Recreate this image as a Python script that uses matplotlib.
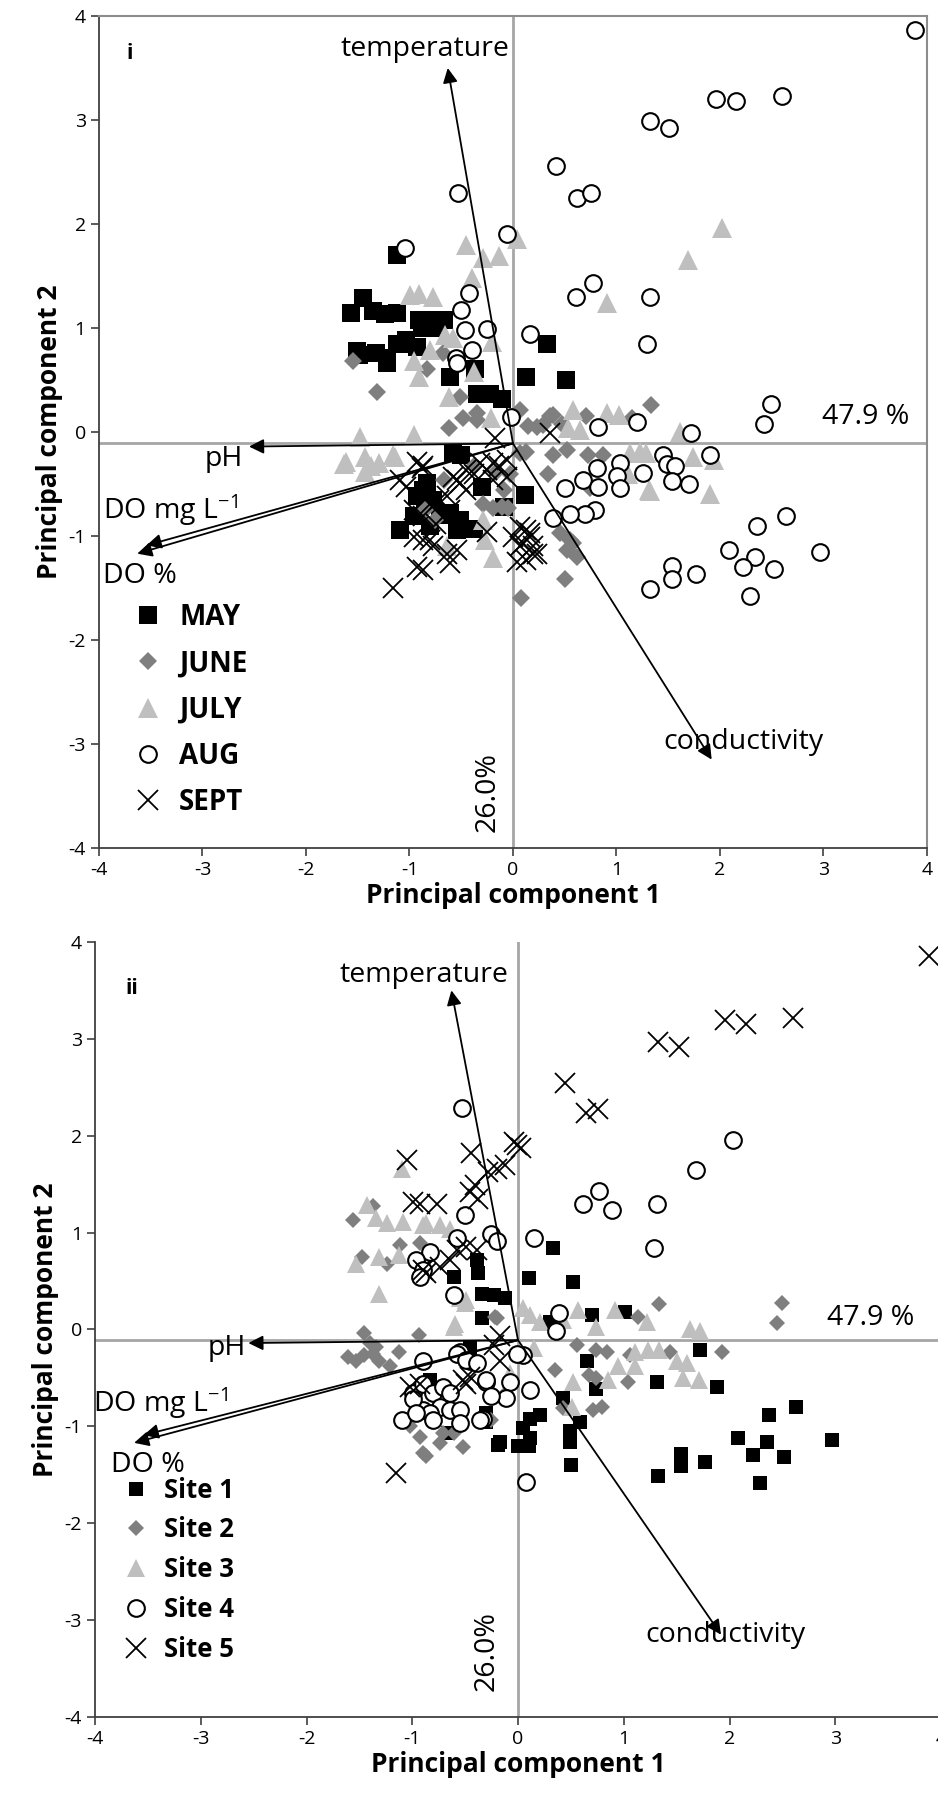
import matplotlib
matplotlib.use("Agg")
import matplotlib.pyplot as plt
from matplotlib.lines import Line2D

plt.rcParams["font.family"] = ["Open Sans", "DejaVu Sans"]
plt.rcParams["axes.unicode_minus"] = False
plt.rcParams["mathtext.fontset"] = "custom"
plt.rcParams["mathtext.rm"] = "Open Sans"
plt.rcParams["mathtext.default"] = "regular"

# ---------------- PCA scores, panel i (grouped by month) ----------------
may = [(-1.12, 1.70), (-1.45, 1.29), (-1.56, 1.14), (-1.35, 1.16), (-1.24, 1.13), (-1.12, 1.14),
       (-0.91, 1.08), (-0.80, 1.08), (-0.67, 1.08), (-0.88, 1.00), (-0.74, 1.00), (-1.12, 0.85),
       (-1.03, 0.88), (-1.49, 0.74), (-1.32, 0.76), (-1.22, 0.71), (-0.93, 0.82), (-1.09, 0.85),
       (-1.22, 0.66), (-1.51, 0.78), (-0.61, 0.53), (-0.37, 0.61), (-0.35, 0.37), (-0.22, 0.37),
       (-0.11, 0.32), (-0.30, 0.37), (0.13, 0.53), (0.33, 0.85), (0.51, 0.50), (-0.58, -0.20),
       (-0.50, -0.22), (-0.83, -0.49), (-0.93, -0.62), (-0.85, -0.65), (-1.09, -0.94), (-0.96, -0.81),
       (-0.61, -0.78), (-0.54, -0.94), (-0.51, -0.85), (-0.38, -0.93), (-0.30, -0.53), (-0.09, -0.72),
       (0.12, -0.61), (-0.87, -0.56), (-0.77, -0.65), (-0.70, -0.80), (-0.80, -0.90)]

june = [(-1.55, 0.68), (-1.31, 0.38), (-0.83, 0.61), (-0.68, 0.76), (-0.51, 0.34), (-0.35, 0.18),
        (-0.62, 0.04), (-0.35, 0.12), (0.07, 0.21), (0.15, 0.06), (0.23, 0.05), (0.39, 0.16),
        (0.47, 0.08), (0.29, 0.07), (0.71, 0.15), (1.33, 0.26), (1.15, 0.13), (0.36, 0.15),
        (0.13, -0.19), (0.39, -0.22), (0.34, -0.40), (0.52, -0.17), (0.73, -0.22), (0.87, -0.22),
        (-0.03, -0.40), (-0.05, -0.73), (0.45, -0.97), (0.52, -1.13), (0.55, -1.04), (0.62, -1.20),
        (0.50, -1.41), (0.08, -1.60), (0.74, -0.54), (-0.09, -0.56), (-0.19, -0.73), (-0.29, -0.69),
        (-0.11, -0.72), (-0.38, -0.33), (-0.16, -0.38), (-0.67, -0.46), (0.07, -0.20), (-0.48, 0.13),
        (0.58, -1.07), (-0.85, -0.75), (-0.75, -0.85)]

july = [(2.02, 1.96), (1.69, 1.65), (0.91, 1.24), (0.91, 0.18), (1.02, 0.16), (1.61, 0.00),
        (1.74, -0.24), (1.94, -0.27), (1.13, -0.20), (1.23, -0.19), (1.29, -0.20), (1.11, -0.40),
        (1.31, -0.56), (1.90, -0.60), (-0.45, 1.80), (-0.29, 1.67), (-0.13, 1.69), (0.04, 1.86),
        (-0.40, 1.48), (-0.99, 1.32), (-0.91, 1.33), (-0.77, 1.30), (-0.66, 0.93), (-0.58, 0.90),
        (-0.80, 0.79), (-0.96, 0.68), (-0.91, 0.53), (-0.38, 0.58), (-0.62, 0.34), (-0.21, 0.13),
        (-0.20, 0.87), (-0.96, -0.03), (-1.16, -0.22), (0.58, 0.21), (0.53, 0.04), (0.65, 0.02),
        (-1.48, -0.05), (-1.61, -0.29), (-1.43, -0.24), (-1.37, -0.33), (-1.29, -0.30), (-1.14, -0.24),
        (-1.43, -0.38), (-1.63, -0.31), (-0.29, -0.85), (-0.27, -1.04), (-0.19, -1.21), (-0.64, -1.10),
        (1.32, -0.57)]

aug = [(3.88, 3.87), (1.96, 3.20), (2.16, 3.18), (2.60, 3.23), (1.32, 2.99), (1.51, 2.92),
       (0.42, 2.56), (-0.53, 2.30), (0.62, 2.25), (0.75, 2.30), (-0.06, 1.90), (-1.04, 1.77),
       (0.77, 1.43), (0.61, 1.30), (1.32, 1.30), (-0.42, 1.34), (-0.50, 1.17), (-0.46, 0.98),
       (-0.25, 0.99), (0.16, 0.94), (-0.40, 0.79), (-0.55, 0.71), (-0.54, 0.66), (1.30, 0.85),
       (-0.02, 0.14), (0.82, 0.05), (1.20, 0.10), (1.72, -0.01), (2.49, 0.27), (2.43, 0.08),
       (1.90, -0.22), (1.45, -0.22), (1.49, -0.31), (1.57, -0.33), (1.54, -0.47), (1.70, -0.50),
       (1.26, -0.39), (1.03, -0.30), (1.01, -0.42), (1.03, -0.54), (2.36, -0.90), (2.64, -0.81),
       (2.09, -1.13), (2.34, -1.20), (2.22, -1.30), (2.52, -1.32), (2.97, -1.15), (1.54, -1.29),
       (1.54, -1.41), (1.77, -1.37), (1.32, -1.51), (2.29, -1.58), (0.81, -0.35), (0.68, -0.46),
       (0.82, -0.53), (0.50, -0.54), (0.79, -0.75), (0.70, -0.79), (0.55, -0.79), (0.39, -0.83)]

sept = [(-0.17, -0.06), (0.36, -0.01), (-0.93, -0.29), (-0.87, -0.33), (-1.09, -0.46), (-1.03, -0.53),
        (-0.58, -0.43), (-0.51, -0.49), (-0.45, -0.56), (-0.38, -0.40), (-0.25, -0.37), (-0.13, -0.33),
        (-0.06, -0.43), (-0.19, -0.46), (-0.80, -0.69), (-0.71, -0.65), (-0.64, -0.62), (-0.96, -1.01),
        (-0.87, -1.04), (-0.77, -1.10), (-0.64, -1.17), (-0.54, -1.13), (-0.93, -1.30), (-0.87, -1.33),
        (-0.61, -1.26), (-1.16, -1.50), (-0.25, -0.96), (0.07, -0.91), (0.16, -0.97), (0.10, -1.07),
        (0.19, -1.17), (0.13, -1.23), (0.13, -0.94), (0.16, -1.01), (0.19, -1.10), (0.23, -1.17),
        (0.07, -1.10), (0.00, -1.01), (0.04, -1.25), (-0.96, -0.75), (-0.87, -0.81), (-0.80, -1.04),
        (-0.74, -0.88), (-0.61, -0.75), (-0.54, -0.46), (-0.45, -0.37), (-0.32, -0.30), (-0.19, -0.30),
        (-0.06, -0.27), (-0.88, -0.35)]

# ---------------- PCA scores, panel ii (grouped by site) ----------------
site1 = [(0.33, 0.84), (0.10, 0.53), (0.52, 0.49), (-0.34, 0.37), (-0.23, 0.36), (-0.12, 0.32),
         (-0.34, 0.12), (-0.38, 0.58), (-0.39, 0.72), (0.30, 0.08), (0.70, 0.15), (1.01, 0.18),
         (1.72, -0.21), (1.88, -0.59), (1.31, -0.54), (2.37, -0.88), (2.63, -0.80), (2.08, -1.12),
         (2.35, -1.16), (2.97, -1.14), (0.65, -0.33), (0.74, -0.61), (0.43, -0.71), (0.11, -0.92),
         (0.21, -0.88), (0.05, -1.02), (0.59, -0.95), (0.49, -1.05), (-0.17, -1.16), (0.11, -1.12),
         (0.49, -1.16), (1.32, -1.51), (1.54, -1.29), (1.54, -1.41), (1.77, -1.37), (2.22, -1.30),
         (2.29, -1.58), (2.52, -1.32), (0.00, -1.20), (0.10, -1.20), (0.50, -1.40), (-0.30, -0.95),
         (-0.83, -0.52), (-0.66, -1.07), (-0.30, -0.86), (-0.19, -1.19), (-0.61, 0.54), (-0.45, -0.19)]

site2 = [(1.33, 0.26), (2.50, 0.27), (2.45, 0.07), (1.13, 0.13), (1.93, -0.23), (-0.20, 0.12),
         (0.35, -0.42), (0.74, -0.21), (0.84, -0.23), (1.06, -0.26), (1.44, -0.23), (0.67, -0.47),
         (0.74, -0.50), (1.04, -0.54), (0.79, -0.80), (0.71, -0.83), (0.43, -0.81), (0.56, -0.16),
         (-1.56, 1.13), (-1.37, 1.27), (-1.48, 0.75), (-1.24, 0.68), (-1.12, 0.87), (-0.93, 0.89),
         (-0.22, 0.13), (-1.46, -0.04), (-1.40, -0.14), (-1.61, -0.28), (-1.53, -0.33), (-1.46, -0.26),
         (-1.37, -0.25), (-1.31, -0.33), (-1.21, -0.38), (-1.34, -0.18), (-1.13, -0.23), (-0.94, -0.06),
         (-1.02, -1.00), (-0.93, -1.11), (-0.87, -1.31), (-0.74, -1.17), (-0.61, -1.07), (-0.52, -1.21),
         (-0.71, -1.07), (-0.26, -0.93), (-0.14, -0.69), (-0.90, -1.27)]

site3 = [(-1.10, 1.66), (-1.43, 1.28), (-1.34, 1.15), (-1.24, 1.10), (-1.09, 1.11), (-0.90, 1.08),
         (-0.74, 1.08), (-0.64, 1.04), (-0.87, 1.10), (-1.53, 0.68), (-1.31, 0.75), (-1.13, 0.77),
         (-1.31, 0.37), (-0.61, 0.03), (-0.49, 0.30), (-0.08, -0.45), (-0.50, 0.27), (0.05, 0.22),
         (0.11, 0.15), (0.21, 0.08), (0.57, 0.20), (0.92, 0.20), (1.22, 0.08), (1.63, 0.00),
         (1.72, -0.02), (0.74, 0.03), (0.43, 0.10), (1.11, -0.23), (1.23, -0.21), (1.33, -0.21),
         (1.50, -0.33), (1.60, -0.35), (1.71, -0.52), (1.56, -0.50), (1.11, -0.38), (0.95, -0.38),
         (0.85, -0.52), (0.52, -0.54), (0.51, -0.80), (0.15, -0.19), (-0.55, 0.32), (-0.60, 0.06)]

site4 = [(2.03, 1.96), (1.68, 1.65), (0.77, 1.43), (0.61, 1.29), (0.89, 1.23), (1.31, 1.30),
         (1.29, 0.84), (0.15, 0.94), (-0.53, 2.29), (-0.50, 1.18), (-0.26, 0.99), (-0.20, 0.91),
         (-0.61, 0.36), (0.39, 0.17), (0.36, -0.02), (0.05, -0.26), (0.11, -0.62), (-0.08, -0.54),
         (-0.11, -0.71), (-0.30, -0.54), (-0.33, -0.92), (-0.45, -0.33), (-0.55, -0.23), (0.08, -1.57),
         (-0.93, 0.70), (-0.83, 0.80), (-0.58, 0.94), (-0.96, 0.72), (-0.90, 0.61), (-0.93, 0.54),
         (-0.01, -0.25), (-0.58, -0.25), (-0.49, -0.31), (-0.39, -0.35), (-0.90, -0.33), (-0.30, -0.52),
         (-0.26, -0.69), (-0.99, -0.66), (-0.90, -0.56), (-0.80, -0.66), (-0.71, -0.59), (-0.64, -0.66),
         (-0.74, -0.80), (-0.90, -0.83), (-0.99, -0.72), (-0.83, -0.86), (-0.64, -0.83), (-0.55, -0.83),
         (-1.10, -0.93), (-0.96, -0.86), (-0.80, -0.93), (-0.55, -0.97), (-0.36, -0.93)]

site5 = [(3.89, 3.86), (1.96, 3.19), (2.16, 3.15), (2.60, 3.21), (1.32, 2.97), (1.52, 2.92),
         (0.44, 2.54), (0.64, 2.23), (0.76, 2.28), (-0.01, 1.90), (0.03, 1.87), (-0.04, 1.94),
         (-0.44, 1.82), (-0.12, 1.70), (-0.20, 1.66), (-0.28, 1.63), (-0.41, 1.49), (-0.45, 1.42),
         (-0.38, 1.35), (-1.05, 1.75), (-0.99, 1.32), (-0.93, 1.30), (-0.77, 1.30), (-0.58, 0.82),
         (-0.64, 0.72), (-0.49, 0.85), (-0.74, 0.65), (-0.90, 0.61), (-0.87, 0.58), (-0.17, -0.07),
         (-0.23, -0.16), (-0.52, -0.52), (-0.49, -0.56), (-0.45, -0.49), (-1.02, -0.59), (-0.93, -0.56),
         (-1.15, -1.48), (-0.17, -0.33), (-0.39, 0.82)]

month_labels = ["MAY", "JUNE", "JULY", "AUG", "SEPT"]
site_labels = ["Site 1", "Site 2", "Site 3", "Site 4", "Site 5"]

# ---------------- variable loadings (arrow tips) ----------------
loading_origin = (0.0, -0.11)
loading_names = ["temperature", "pH", "DO mg L$^{-1}$", "DO %", "conductivity"]
loading_tips = [(-0.63, 3.50), (-2.55, -0.14), (-3.54, -1.09), (-3.63, -1.17), (1.92, -3.15)]
pc1_var = "47.9 %"
pc2_var = "26.0%"

# ---------------- marker styles per group ----------------
styles = [
    dict(marker="s", mfc="black", mec="black", mew=0),
    dict(marker="D", mfc="#7f7f7f", mec="#7f7f7f", mew=0),
    dict(marker="^", mfc="#bfbfbf", mec="#bfbfbf", mew=0),
    dict(marker="o", mfc="white", mec="black", mew=1.5),
    dict(marker="x", mfc="none", mec="black", mew=1.3),
]
sizes_i = [13, 9.5, 14.5, 12, 14]
sizes_ii = [10, 8.5, 13, 12, 14]

TXT = 20.5


def draw_panel(ax, groups, labels, sizes, label_pos, leg_anchor, leg_font, leg_space):
    ax.set_xlim(-4, 4)
    ax.set_ylim(-4, 4)
    # reference lines through the loading origin
    ax.axhline(loading_origin[1], color="#a6a6a6", lw=2, zorder=1)
    ax.axvline(loading_origin[0], color="#a6a6a6", lw=2, zorder=1)

    for pts, st, ms in zip(groups, styles, sizes):
        xs = [p[0] for p in pts]
        ys = [p[1] for p in pts]
        ax.plot(xs, ys, linestyle="none", markersize=ms, zorder=3, **st)

    # loading arrows with their labels
    for name, tip in zip(loading_names, loading_tips):
        ax.annotate("", xy=tip, xytext=loading_origin,
                    arrowprops=dict(arrowstyle="-|>", color="black", lw=1.3,
                                    mutation_scale=22, shrinkA=0, shrinkB=0),
                    zorder=5)
        lx, ly = label_pos[name]
        ax.text(lx, ly, name, fontsize=TXT, ha="center", va="center", zorder=6)

    handles = [Line2D([], [], linestyle="none", markersize=ms, **st)
               for st, ms in zip(styles, sizes)]
    ax.legend(handles, labels, loc="center left", bbox_to_anchor=leg_anchor,
              frameon=False, handlelength=1.0, handletextpad=0.6,
              labelspacing=leg_space, borderpad=0, borderaxespad=0,
              prop=dict(weight="bold", size=leg_font))

    ax.set_xticks(range(-4, 5))
    ax.set_yticks(range(-4, 5))
    ax.tick_params(labelsize=14, length=6, width=1.2, color="#404040", direction="out")
    ax.set_xlabel("Principal component 1", fontsize=19, fontweight="bold", labelpad=2)
    ax.set_ylabel("Principal component 2", fontsize=19, fontweight="bold", labelpad=4)


fig = plt.figure(figsize=(9.38, 18), dpi=100)

# panel i: grouped by month
ax1 = fig.add_axes([0.1055, 0.5289, 0.8827, 0.4622])
pos1 = {"temperature": (-0.85, 3.68), "pH": (-2.79, -0.26), "DO mg L$^{-1}$": (-3.31, -0.75),
        "DO %": (-3.6, -1.38), "conductivity": (2.23, -2.98)}
draw_panel(ax1, [may, june, july, aug, sept], month_labels, sizes_i, pos1,
           (0.043, 0.166), 20, 0.62)
for s in ("top", "right"):
    ax1.spines[s].set_color("#8c8c8c")
    ax1.spines[s].set_linewidth(1.5)
for s in ("left", "bottom"):
    ax1.spines[s].set_color("#404040")
    ax1.spines[s].set_linewidth(1.3)
ax1.text(-3.73, 3.64, "i", fontsize=15, fontweight="bold", ha="left", va="center")
ax1.text(3.41, 0.14, pc1_var, fontsize=TXT, ha="center", va="center")
ax1.text(-0.24, -3.46, pc2_var, fontsize=TXT, ha="center", va="center", rotation=90)

# panel ii: grouped by site
ax2 = fig.add_axes([0.1013, 0.0461, 0.9019, 0.4306])
pos2 = {"temperature": (-0.89, 3.66), "pH": (-2.75, -0.19), "DO mg L$^{-1}$": (-3.38, -0.76),
        "DO %": (-3.5, -1.40), "conductivity": (1.96, -3.15)}
draw_panel(ax2, [site1, site2, site3, site4, site5], site_labels, sizes_ii, pos2,
           (0.033, 0.19), 18.5, 0.5)
for s in ("top", "right"):
    ax2.spines[s].set_visible(False)
for s in ("left", "bottom"):
    ax2.spines[s].set_color("#404040")
    ax2.spines[s].set_linewidth(1.3)
ax2.text(-3.71, 3.52, "ii", fontsize=15, fontweight="bold", ha="left", va="center")
ax2.text(3.33, 0.12, pc1_var, fontsize=TXT, ha="center", va="center")
ax2.text(-0.30, -3.32, pc2_var, fontsize=TXT, ha="center", va="center", rotation=90)

fig.savefig("out.png", dpi=100)
